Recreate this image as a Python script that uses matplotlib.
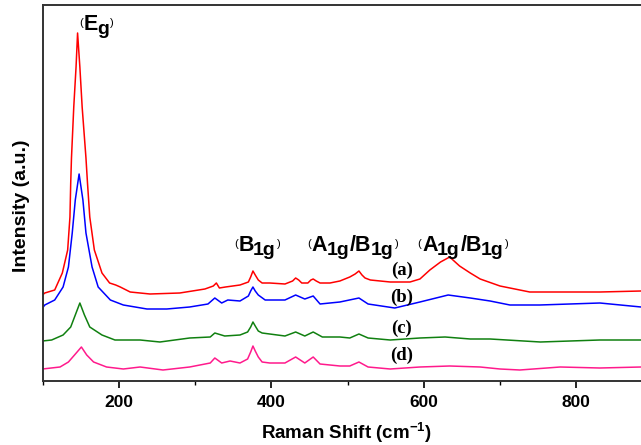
import numpy as np
import matplotlib
matplotlib.use("Agg")
import matplotlib.pyplot as plt
import matplotlib.transforms as mtransforms
from matplotlib.ticker import MultipleLocator

plt.rcParams['font.family'] = ['Liberation Sans', 'DejaVu Sans']
plt.rcParams['mathtext.fontset'] = 'custom'
plt.rcParams['mathtext.rm'] = 'Liberation Sans'
plt.rcParams['mathtext.bf'] = 'Liberation Sans:bold'

# Raman spectra (shift in cm-1, intensity in a.u.)
x_a = [100, 103, 116, 126, 133, 136, 137, 138, 141, 144, 146, 149, 152, 157, 159, 162, 168,
       178, 188, 196, 202, 215, 241, 280, 313, 324, 328, 332, 340, 359, 370, 373, 376, 379,
       383, 388, 398, 418, 428, 432, 436, 440, 448, 452, 455, 459, 464, 477, 490, 503, 510,
       515, 519, 523, 530, 556, 582, 595, 608, 622, 634, 647, 661, 674, 700, 739, 779, 831,
       885, 900]
y_a = [86, 88, 91, 108, 131, 164, 198, 223, 274, 314, 348, 314, 274, 223, 198, 164, 131,
       108, 98, 96, 94, 89, 87, 88, 92, 95, 98, 93, 94, 96, 99, 104, 110, 106,
       101, 98, 98, 97, 100, 103, 101, 98, 98, 101, 102, 100, 98, 98, 100, 104, 107,
       110, 106, 103, 101, 99, 99, 102, 111, 119, 124, 115, 108, 102, 95, 89, 89, 89,
       90, 90]

x_b = [100, 103, 116, 127, 134, 139, 143, 148, 153, 157, 165, 173, 189, 206, 237, 263, 293,
       317, 326, 335, 343, 359, 370, 373, 376, 379, 383, 392, 418, 432, 444, 455, 464, 490,
       515, 527, 562, 595, 632, 661, 687, 713, 752, 831, 885, 900]
y_b = [73, 76, 81, 94, 114, 148, 181, 207, 181, 148, 114, 94, 81, 76, 72, 72, 74,
       77, 83, 78, 81, 80, 85, 90, 94, 90, 86, 81, 81, 86, 82, 85, 77, 79,
       83, 77, 73, 79, 86, 83, 80, 76, 76, 78, 74, 74]

x_c = [100, 112, 127, 137, 143, 149, 155, 162, 178, 195, 228, 254, 293, 320, 326, 339, 359,
       369, 373, 376, 379, 383, 388, 418, 432, 444, 455, 467, 490, 503, 515, 527, 556, 595,
       628, 661, 687, 753, 831, 885, 900]
y_c = [40, 41, 46, 54, 66, 78, 66, 54, 46, 41, 41, 39, 43, 44, 48, 45, 46,
       49, 54, 59, 55, 50, 48, 45, 49, 45, 49, 44, 44, 43, 47, 43, 41, 43,
       44, 42, 42, 39, 41, 41, 41]

x_d = [100, 123, 134, 142, 151, 158, 167, 184, 206, 228, 258, 293, 320, 326, 335, 346, 359,
       369, 373, 376, 379, 383, 388, 398, 418, 432, 444, 455, 464, 490, 503, 515, 527, 556,
       595, 634, 674, 700, 726, 779, 831, 885, 900]
y_d = [12, 14, 19, 26, 34, 26, 19, 14, 12, 14, 11, 14, 18, 23, 18, 20, 18,
       22, 29, 35, 30, 24, 19, 18, 18, 24, 18, 24, 17, 15, 15, 19, 14, 12,
       14, 15, 14, 12, 11, 14, 13, 14, 14]

series = [
    ('(a)', x_a, y_a, '#ff0000', 111),
    ('(b)', x_b, y_b, '#0000ff', 84),
    ('(c)', x_c, y_c, '#108010', 53),
    ('(d)', x_d, y_d, '#ff1a8c', 26),
]

# mode labels: list of (symbol, subscript) pairs, left x, baseline y
modes = [
    ([('E', 'g')], 148, 351),
    ([('B', '1g')], 351, 130),
    ([('A', '1g'), ('/B', '1g')], 447, 130),
    ([('A', '1g'), ('/B', '1g')], 592, 130),
]

fig = plt.figure(figsize=(6.41, 4.45), dpi=100)
ax = fig.add_axes([42.5 / 641, 64 / 445, 610 / 641, 376 / 445])
ax.set_xlim(100, 900)
ax.set_ylim(0, 376)

for label, xs, ys, col, ly in series:
    ax.plot(xs, ys, color=col, lw=1.1)
    ax.text(571, ly, label, ha='center', va='center', fontsize=13.5,
            fontweight='bold', family=['Liberation Serif', 'DejaVu Serif'])

renderer = fig.canvas.get_renderer()


def draw_piece(x, y, s, off, dy, size, weight):
    # place one piece of a label, shifted by (off, dy) points, return new offset
    tr = mtransforms.offset_copy(ax.transData, fig=fig, x=off, y=dy, units='points')
    t = ax.text(x, y, s, transform=tr, fontsize=size, fontweight=weight,
                ha='left', va='baseline')
    w = t.get_window_extent(renderer=renderer).width
    return off + w * 72.0 / fig.dpi


for parts, mx, my in modes:
    off = draw_piece(mx, my, '(', 0, 3, 8, 'normal')
    for sym, sub in parts:
        off = draw_piece(mx, my, sym, off + 0.5, 0, 15.5, 'bold')
        off = draw_piece(mx, my, sub, off - 0.5, -3, 14, 'bold')
    draw_piece(mx, my, ')', off + 1, 3, 8, 'normal')

ax.xaxis.set_major_locator(MultipleLocator(200))
ax.xaxis.set_minor_locator(MultipleLocator(100))
ax.tick_params(axis='x', which='major', direction='out', length=5, width=1.2,
               labelsize=12.5, pad=5)
ax.tick_params(axis='x', which='minor', direction='out', length=3, width=1.0)
ax.set_yticks([])
for lbl in ax.get_xticklabels():
    lbl.set_fontweight('bold')
for sp in ax.spines.values():
    sp.set_linewidth(1.4)
    sp.set_color('#333333')

fig.text(346 / 641, 1 - 433 / 445, r'Raman Shift (cm$^{\mathbf{-1}}$)', fontsize=13.5,
         fontweight='bold', ha='center', va='center')
fig.text(22 / 641, 1 - 206 / 445, 'Intensity (a.u.)', fontsize=14, fontweight='bold',
         rotation=90, ha='center', va='center')

fig.savefig('out.png', dpi=100)
